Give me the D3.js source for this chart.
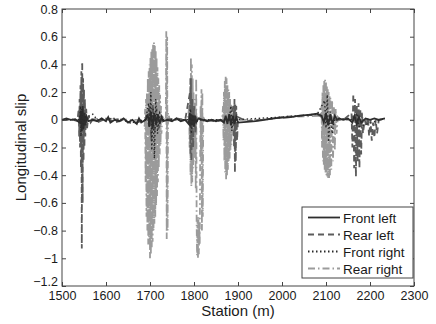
<!DOCTYPE html>
<html>
<head>
<meta charset="utf-8">
<script src="https://cdn.jsdelivr.net/npm/d3@7"></script>
<style>
  body { margin: 0; background: #fff; }
  svg { display: block; font-family: "Liberation Sans", Arial, sans-serif; }
</style>
</head>
<body>
<svg id="chart" width="436" height="324"></svg>
<script>
// [station (m), longitudinal slip]
const frontLeft = [
  [1500, 0.0], [1510, 0.01], [1520, 0.0], [1530, 0.005], [1540, -0.02], [1543, 0.06], [1545, -0.08],
  [1547, 0.1], [1549, -0.07], [1551, 0.05], [1553, -0.04], [1556, 0.02], [1560, -0.01], [1570, 0.0],
  [1580, -0.01], [1590, 0.01], [1600, -0.01], [1605, 0.02], [1610, -0.02], [1620, 0.0], [1630, -0.01],
  [1640, 0.01], [1650, -0.02], [1660, 0.0], [1670, -0.03], [1675, 0.01], [1680, -0.02], [1690, 0.0],
  [1695, 0.04], [1698, -0.05], [1702, 0.06], [1706, -0.06], [1710, 0.05], [1714, -0.04], [1718, 0.04],
  [1722, -0.03], [1726, 0.02], [1730, -0.01], [1740, 0.0], [1750, -0.01], [1760, 0.01], [1770, -0.01],
  [1780, 0.0], [1788, -0.03], [1790, 0.05], [1792, -0.05], [1794, 0.04], [1796, -0.04], [1798, 0.03],
  [1800, -0.05], [1802, 0.03], [1805, -0.02], [1810, 0.01], [1820, 0.0], [1830, -0.01], [1840, 0.0],
  [1850, -0.01], [1860, 0.0], [1868, -0.02], [1872, 0.03], [1876, -0.03], [1880, 0.04], [1884, -0.04],
  [1888, 0.03], [1892, -0.03], [1896, 0.02], [1900, -0.02], [1920, -0.015], [1940, -0.01], [1960, 0.0],
  [1980, 0.01], [2000, 0.015], [2020, 0.02], [2040, 0.03], [2060, 0.035], [2080, 0.045], [2090, 0.03],
  [2095, -0.02], [2100, 0.05], [2105, -0.04], [2110, 0.04], [2115, -0.03], [2120, 0.03], [2125, 0.0],
  [2130, 0.01], [2140, 0.0], [2150, 0.01], [2160, -0.02], [2165, 0.03], [2170, -0.03], [2175, 0.02],
  [2180, -0.02], [2190, 0.01], [2200, 0.0], [2210, 0.01], [2220, 0.0], [2234, 0.01]
];

const rearLeft = [
  [1500, 0.0], [1520, 0.005], [1535, -0.01], [1538, 0.08], [1539, -0.12], [1540, 0.15], [1541, -0.2],
  [1542, 0.25], [1543, -0.35], [1544, 0.35], [1545, -0.93], [1546, 0.42], [1547, -0.6], [1548, 0.3],
  [1549, -0.3], [1550, 0.22], [1551, -0.2], [1552, 0.15], [1553, -0.12], [1555, 0.08], [1557, -0.06],
  [1560, 0.03], [1565, -0.02], [1570, 0.0], [1580, -0.02], [1600, 0.01], [1620, -0.02], [1640, 0.0],
  [1660, -0.03], [1680, -0.01], [1690, 0.0], [1700, 0.1], [1703, -0.15], [1706, 0.12], [1710, -0.1],
  [1715, 0.08], [1720, -0.06], [1728, 0.02], [1735, 0.0], [1760, 0.01], [1780, 0.0], [1791, 0.2],
  [1792, -0.25], [1793, 0.3], [1794, -0.3], [1796, 0.15], [1798, -0.2], [1800, 0.1], [1803, -0.1],
  [1806, 0.03], [1815, 0.0], [1850, -0.01], [1880, 0.0], [1890, 0.1], [1891, -0.2], [1892, 0.15],
  [1893, -0.38], [1894, 0.12], [1895, -0.3], [1896, 0.1], [1898, -0.15], [1900, 0.02], [1920, -0.01],
  [1960, 0.0], [2000, 0.02], [2050, 0.03], [2080, 0.04], [2100, 0.0], [2140, 0.0], [2158, 0.05],
  [2160, -0.2], [2162, 0.19], [2164, -0.35], [2166, 0.15], [2168, -0.41], [2170, 0.1], [2172, -0.3],
  [2174, 0.12], [2176, -0.35], [2178, 0.08], [2180, -0.25], [2182, 0.05], [2184, -0.1], [2188, 0.0],
  [2192, -0.05], [2195, 0.02], [2198, -0.12], [2201, 0.0], [2204, -0.15], [2207, -0.02], [2210, -0.13],
  [2213, 0.0], [2216, -0.1], [2220, 0.0], [2234, 0.01]
];

const frontRight = [
  [1500, 0.0], [1540, 0.0], [1542, 0.1], [1543, -0.12], [1545, 0.08], [1548, -0.06], [1552, 0.02],
  [1565, 0.03], [1570, 0.04], [1580, 0.0], [1620, 0.01], [1660, -0.02], [1690, 0.0], [1697, 0.12],
  [1699, -0.05], [1702, 0.2], [1704, -0.22], [1707, 0.08], [1710, -0.28], [1713, 0.15], [1717, -0.1],
  [1722, 0.05], [1730, 0.0], [1790, 0.0], [1792, 0.08], [1794, -0.1], [1797, 0.04], [1800, -0.03],
  [1810, 0.0], [1880, 0.0], [1884, 0.1], [1886, -0.08], [1889, 0.03], [1892, 0.0], [2000, 0.02],
  [2080, 0.04], [2097, 0.14], [2100, -0.06], [2103, 0.18], [2106, -0.16], [2110, 0.06], [2114, -0.1],
  [2120, 0.02], [2130, 0.01], [2160, 0.0], [2170, 0.05], [2175, -0.05], [2234, 0.01]
];

const rearRight = [
  [1500, 0.0], [1540, 0.0], [1600, 0.01], [1650, 0.0], [1686, 0.0], [1688, -0.05],
  [1689, 0.08], [1690, -0.45], [1691, 0.15], [1692, -0.7], [1693, 0.2], [1694, -0.8], [1695, 0.3],
  [1696, -0.9], [1697, 0.35], [1698, -0.85], [1699, 0.4], [1700, -1.0], [1701, 0.45], [1702, -0.97],
  [1703, 0.5], [1704, -0.92], [1705, 0.52], [1706, -0.88], [1707, 0.55], [1708, -0.8], [1709, 0.56],
  [1710, -0.75], [1711, 0.54], [1712, -0.7], [1713, 0.5], [1714, -0.62], [1715, 0.45], [1716, -0.55],
  [1717, 0.38], [1718, -0.45], [1719, 0.3], [1720, -0.35], [1721, 0.25], [1722, -0.25], [1723, 0.18],
  [1724, -0.18], [1725, 0.1], [1726, -0.1], [1728, 0.03], [1732, 0.0],
  [1736, 0.0], [1737, 0.64], [1738, -0.86], [1739, 0.6], [1740, -0.8], [1741, 0.05], [1745, 0.0],
  [1786, 0.0], [1789, 0.1], [1790, -0.2], [1791, 0.3], [1792, -0.4], [1793, 0.45], [1794, -0.48],
  [1795, 0.4], [1796, -0.45], [1797, 0.3], [1798, -0.35], [1799, 0.2], [1800, -0.3], [1801, 0.1],
  [1802, -0.25], [1803, 0.15], [1804, -0.5], [1805, 0.3], [1806, -0.75], [1807, -0.98], [1808, -0.72],
  [1809, -1.0], [1810, -0.7], [1811, -0.97], [1812, -0.75], [1813, -0.9], [1814, -0.3], [1815, 0.1],
  [1816, -0.3], [1817, 0.22], [1818, -0.8], [1819, 0.2], [1820, -0.7], [1821, 0.02], [1824, 0.0],
  [1864, 0.0], [1866, 0.1], [1867, -0.15], [1868, 0.2], [1869, -0.3], [1870, 0.28], [1871, -0.38],
  [1872, 0.31], [1873, -0.43], [1874, 0.3], [1875, -0.4], [1876, 0.25], [1877, -0.36], [1878, 0.22],
  [1879, -0.3], [1880, 0.2], [1881, -0.28], [1882, 0.15], [1883, -0.22], [1884, 0.12], [1885, -0.18],
  [1886, 0.1], [1887, -0.12], [1889, 0.05], [1892, 0.0],
  [1950, 0.0], [2020, 0.02], [2088, 0.03], [2090, 0.1], [2091, -0.2], [2092, 0.2], [2093, -0.3],
  [2094, 0.25], [2095, -0.33], [2096, 0.28], [2097, -0.36], [2098, 0.29], [2099, -0.38], [2100, 0.27],
  [2101, -0.4], [2102, 0.25], [2103, -0.41], [2104, 0.22], [2105, -0.42], [2106, 0.2], [2107, -0.42],
  [2108, 0.18], [2109, -0.4], [2110, 0.16], [2112, -0.36], [2114, 0.14], [2116, -0.3], [2118, 0.1],
  [2120, -0.22], [2122, 0.08], [2124, -0.1], [2127, 0.02], [2132, 0.0], [2180, 0.0], [2234, 0.0]
];

const seriesNames = ['Front left', 'Rear left', 'Front right', 'Rear right'];
const xTicks = [1500, 1600, 1700, 1800, 1900, 2000, 2100, 2200, 2300];
const yTicks = [0.8, 0.6, 0.4, 0.2, 0, -0.2, -0.4, -0.6, -0.8, -1, -1.2];

const styles = {
  'Front left': { color: '#2e2e2e', dash: null },
  'Rear left': { color: '#5c5c5c', dash: '6,4' },
  'Front right': { color: '#2a2a2a', dash: '1.5,2.5' },
  'Rear right': { color: '#9b9b9b', dash: '7,3,1.5,3' }
};
const dataByName = {
  'Front left': frontLeft,
  'Rear left': rearLeft,
  'Front right': frontRight,
  'Rear right': rearRight
};

const margin = { left: 62, right: 22, top: 9, bottom: 38 };
const width = 436, height = 324;
const svg = d3.select('#chart');

const x = d3.scaleLinear().domain([1500, 2300]).range([margin.left, width - margin.right]);
const y = d3.scaleLinear().domain([-1.2, 0.8]).range([height - margin.bottom, margin.top]);

const line = d3.line().x(d => x(d[0])).y(d => y(d[1]));

const plot = svg.append('g');
// rear right drawn first so the darker traces show through the grey blobs
['Rear right', 'Rear left', 'Front left', 'Front right'].forEach(name => {
  plot.append('path')
    .datum(dataByName[name])
    .attr('fill', 'none')
    .attr('stroke', styles[name].color)
    .attr('stroke-width', name === 'Front right' ? 1.4 : 1.8)
    .attr('stroke-dasharray', styles[name].dash)
    .attr('d', line);
});

const axisColor = '#444';
const fmt = d3.format('~g');

svg.append('g')
  .attr('transform', `translate(0,${y(-1.2)})`)
  .call(d3.axisBottom(x).tickValues(xTicks).tickFormat(fmt).tickSizeInner(-4).tickSizeOuter(0).tickPadding(5))
  .call(g => g.select('.domain').remove());

svg.append('g')
  .attr('transform', `translate(0,${y(0.8)})`)
  .call(d3.axisTop(x).tickValues(xTicks).tickFormat('').tickSizeInner(-4).tickSizeOuter(0))
  .call(g => g.select('.domain').remove());

svg.append('g')
  .attr('class', 'y-left')
  .attr('transform', `translate(${x(1500)},0)`)
  .call(d3.axisLeft(y).tickValues(yTicks).tickFormat(fmt).tickSizeInner(-4).tickSizeOuter(0).tickPadding(4))
  .call(g => g.select('.domain').remove());

svg.append('g')
  .attr('transform', `translate(${x(2300)},0)`)
  .call(d3.axisRight(y).tickValues(yTicks).tickFormat('').tickSizeInner(-4).tickSizeOuter(0))
  .call(g => g.select('.domain').remove());

svg.selectAll('.tick line').attr('stroke', axisColor);
svg.selectAll('.tick text')
  .attr('fill', '#1a1a1a')
  .style('font-size', '12.5px')
  .style('font-family', '"Liberation Sans", Arial, sans-serif');

// lift the bottom y label a little so it sits above the 1500 label
svg.selectAll('.y-left .tick text').filter(d => d === -1.2).attr('dy', '-0.05em');

svg.append('rect')
  .attr('x', x(1500)).attr('y', y(0.8))
  .attr('width', x(2300) - x(1500)).attr('height', y(-1.2) - y(0.8))
  .attr('fill', 'none').attr('stroke', axisColor).attr('stroke-width', 1);

svg.append('text')
  .attr('x', (x(1500) + x(2300)) / 2)
  .attr('y', 316)
  .attr('text-anchor', 'middle')
  .attr('fill', '#1a1a1a')
  .style('font-size', '15px')
  .text('Station (m)');

svg.append('text')
  .attr('transform', `translate(26,${(y(0.8) + y(-1.2)) / 2}) rotate(-90)`)
  .attr('text-anchor', 'middle')
  .attr('fill', '#1a1a1a')
  .style('font-size', '15px')
  .text('Longitudinal slip');

// legend
const legend = svg.append('g').attr('transform', 'translate(302,207)');
legend.append('rect')
  .attr('width', 111).attr('height', 71)
  .attr('fill', '#fff').attr('stroke', axisColor);
seriesNames.forEach((name, i) => {
  const ly = 10.5 + i * 17;
  legend.append('line')
    .attr('x1', 6).attr('x2', 38).attr('y1', ly).attr('y2', ly)
    .attr('stroke', styles[name].color)
    .attr('stroke-width', 1.8)
    .attr('stroke-dasharray', styles[name].dash);
  legend.append('text')
    .attr('x', 41).attr('y', ly + 5)
    .attr('fill', '#1a1a1a')
    .style('font-size', '13.5px')
    .text(name);
});
</script>
</body>
</html>
